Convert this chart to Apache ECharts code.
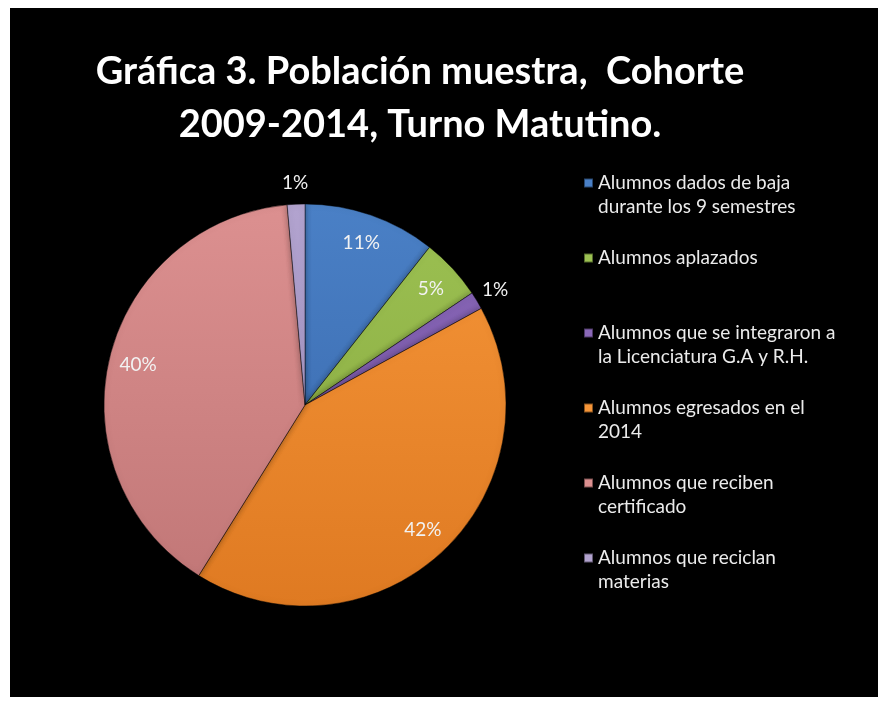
<!DOCTYPE html>
<html>
<head>
<meta charset="utf-8">
<script src="https://cdn.jsdelivr.net/npm/echarts@6/dist/echarts.min.js"></script>
<style>
  html, body { margin: 0; padding: 0; background: #fff; }
  #chart { position: absolute; left: 10px; top: 8px; width: 868px; height: 689px; background: #000; }
</style>
</head>
<body>
<div id="chart"></div>
<script>
// datos de la gráfica
const categorias = [
  "Alumnos dados de baja\ndurante los 9 semestres",
  "Alumnos aplazados",
  "Alumnos que se integraron a\nla Licenciatura G.A y R.H.",
  "Alumnos egresados en el\n2014",
  "Alumnos que reciben\ncertificado",
  "Alumnos que reciclan\nmaterias"
];
const alumnos = [15, 7, 2, 59, 56, 2];
const coloresArriba = ["#4a80c6", "#9cc152", "#8a68b8", "#f59538", "#dc9090", "#b2a3cf"];
const coloresAbajo = ["#3665a8", "#86a63e", "#7050a0", "#df7a22", "#c07676", "#9d8dbd"];

const chart = echarts.init(document.getElementById("chart"));

const cx = 295, cy = 397, R = 201;
const total = alumnos.reduce((a, b) => a + b, 0);

function grad(i) {
  return new echarts.graphic.LinearGradient(0, cy - R, 0, cy + R, [
    { offset: 0, color: coloresArriba[i] },
    { offset: 1, color: coloresAbajo[i] }
  ], true);
}

const datosPie = categorias.map((name, i) => ({
  name,
  value: alumnos[i],
  itemStyle: { color: grad(i) }
}));

// series transparentes solo para colocar las etiquetas
const esChico = v => v / total < 0.03;
const datosDentro = categorias.map((name, i) => ({
  name,
  value: alumnos[i],
  label: { show: !esChico(alumnos[i]) }
}));
const datosFuera = categorias.map((name, i) => ({
  name,
  value: alumnos[i],
  label: { show: esChico(alumnos[i]) }
}));

// icono de la leyenda: cuadrito arriba, a la altura de la primera línea
const iconoLeyenda = "path://M0,7.5h9v9h-9z M0,0h0.01v0.01z M0,47.99h0.01v0.01z";

const comun = {
  type: "pie",
  center: [cx, cy],
  startAngle: 90,
  clockwise: true,
  avoidLabelOverlap: false,
  percentPrecision: 0,
  labelLine: { show: false }
};
const etiqueta = {
  position: "inside",
  formatter: "{d}%",
  color: "#f2f2f2",
  fontSize: 19,
  fontFamily: "Lato"
};

chart.setOption({
  animation: false,
  title: {
    text: "Gráfica 3. Población muestra,  Cohorte\n2009-2014, Turno Matutino.",
    left: 410,
    top: 37,
    padding: 0,
    textAlign: "center",
    textStyle: {
      color: "#ffffff",
      fontFamily: "Lato",
      fontWeight: "bold",
      fontSize: 38,
      lineHeight: 53
    }
  },
  legend: {
    orient: "vertical",
    left: 573,
    top: 162,
    padding: 0,
    itemWidth: 9,
    itemHeight: 48,
    itemGap: 25,
    icon: iconoLeyenda,
    selectedMode: false,
    data: categorias,
    formatter: name => (name.indexOf("\n") >= 0 ? name : name + "\n "),
    textStyle: {
      color: "#ebebeb",
      fontFamily: "Lato",
      fontSize: 19,
      lineHeight: 24
    }
  },
  series: [
    Object.assign({}, comun, {
      name: "principal",
      radius: [0, R],
      label: { show: false },
      itemStyle: {
        borderColor: "rgba(0,0,0,0.45)",
        borderWidth: 1,
        shadowColor: "rgba(0,0,0,0.35)",
        shadowBlur: 6
      },
      data: datosPie
    }),
    Object.assign({}, comun, {
      name: "dentro",
      silent: true,
      radius: [136, R],
      itemStyle: { color: "transparent" },
      label: etiqueta,
      data: datosDentro
    }),
    Object.assign({}, comun, {
      name: "fuera",
      silent: true,
      radius: [R, 238],
      itemStyle: { color: "transparent" },
      label: etiqueta,
      data: datosFuera
    })
  ]
});
</script>
</body>
</html>
